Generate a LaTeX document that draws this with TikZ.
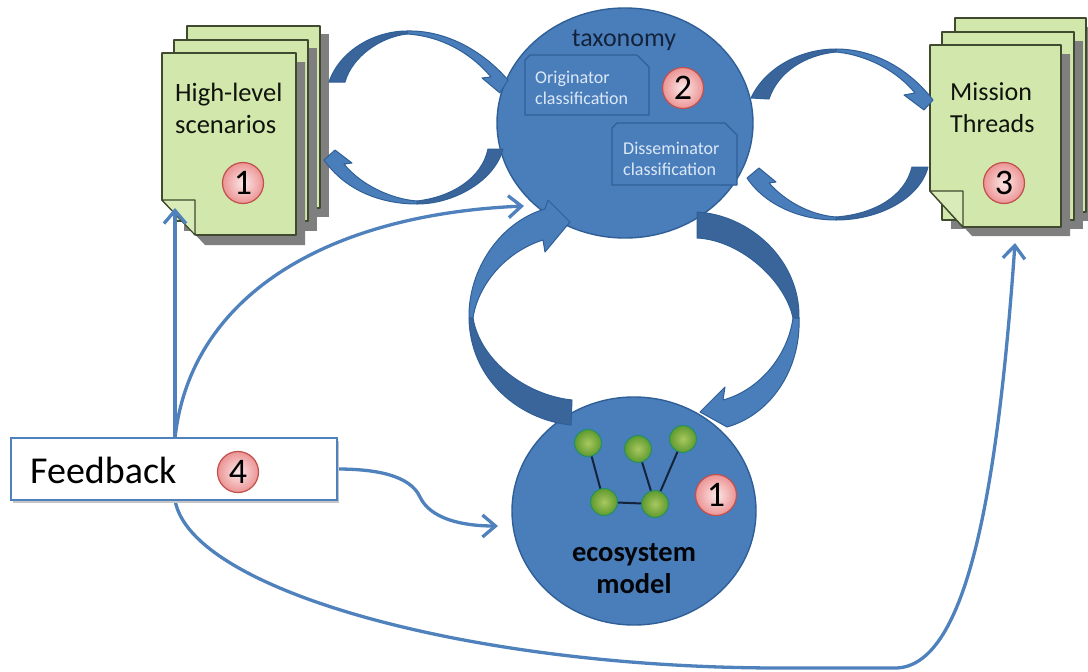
\documentclass[tikz,border=0pt]{standalone}
\usepackage{fontspec}
\setmainfont{Carlito}
\usetikzlibrary{arrows.meta}
\definecolor{blueFill}{HTML}{4A7EBB}
\definecolor{blueDark}{HTML}{3A659B}
\definecolor{blueEdge}{HTML}{2F5F96}
\definecolor{thinBlue}{HTML}{4F81BD}
\definecolor{pageFill}{HTML}{D2E7AC}
\definecolor{pageEdge}{HTML}{3F4A2E}
\definecolor{pageShade}{HTML}{7F7F7F}
\definecolor{navyText}{HTML}{14233C}
\definecolor{paleText}{HTML}{DCE8F7}
\definecolor{ballIn}{HTML}{A8C860}
\definecolor{ballOut}{HTML}{5F9A2E}
\definecolor{badgeIn}{HTML}{FCE8E8}
\definecolor{badgeOut}{HTML}{EC9494}
\definecolor{badgeEdge}{HTML}{C0504D}
\tikzset{
  pagesheet/.style={fill=pageFill,draw=pageEdge,line width=1.6pt,line join=round},
  pageshadow/.style={fill=pageShade},
  foldflap/.style={fill=pageFill!85!white,draw=pageEdge,line width=1.2pt,line join=round},
  classbox/.style={fill=blueFill,draw=blueEdge,line width=1.4pt,line join=round},
  arclight/.style={fill=blueFill,draw=blueEdge,line width=1pt,line join=round},
  arcdark/.style={fill=blueDark,draw=blueEdge,line width=1pt,line join=round},
  thinarrow/.style={draw=thinBlue,line width=3.3pt,-{Straight Barb[length=13pt,width=22pt,line width=3.3pt]}},
  badge/.style={circle,minimum size=41pt,inner sep=0pt,draw=badgeEdge,line width=1.2pt,
    inner color=badgeIn,outer color=badgeOut,text=black,font=\fontsize{36}{36}\selectfont},
  ball/.style={circle,minimum size=27pt,inner sep=0pt,draw=blueEdge!70!green,line width=1pt,
    inner color=ballIn,outer color=ballOut},
  netline/.style={draw=navyText,line width=2pt},
  pagetext/.style={align=left,anchor=west,text=black!75!pageEdge,inner sep=0pt,font=\fontsize{26.5}{32}\selectfont},
  classtext/.style={align=left,anchor=west,text=paleText,inner sep=0pt,font=\fontsize{18}{21}\selectfont},
}
\begin{document}
\begin{tikzpicture}[x=1pt,y=-1pt]
\useasboundingbox (0,0) rectangle (1088,672);
\fill[white] (0,0) rectangle (1088,672);

% scenario stack
\path[pageshadow] (196,34) rectangle (329,217);
\path[pagesheet] (187,26) rectangle (320,208);
\path[pageshadow] (184,48) rectangle (317,231);
\path[pagesheet] (174,40) rectangle (308,221);
\path[pageshadow] (171,62) -- (305,62) -- (305,245) -- (205,245) -- (171,209) -- cycle;
\path[pagesheet] (162,53) -- (296,53) -- (296,235) -- (196,235) -- (162,200) -- cycle;
\path[foldflap] (162,200) -- (195,200) -- (195,235) -- cycle;

% mission stack
\path[pageshadow] (964,27) rectangle (1088,221);
\path[pagesheet] (955,18) rectangle (1086,212);
\path[pageshadow] (951,41) rectangle (1083,229);
\path[pagesheet] (942,32) rectangle (1074,220);
\path[pageshadow] (939,54) -- (1070,54) -- (1070,236) -- (972,236) -- (939,200) -- cycle;
\path[pagesheet] (930,45) -- (1061,45) -- (1061,227) -- (963,227) -- (930,191) -- cycle;
\path[foldflap] (930,191) -- (963,191) -- (963,227) -- cycle;

\node[pagetext] (scentext) at (175,108) {High-level\\scenarios};
\node[pagetext,font=\fontsize{26}{32}\selectfont] (misstext) at (950,108) {Mission\\Threads};

% circles
\path[fill=blueFill,draw=blueEdge,line width=1.4pt] (625,123) ellipse [x radius=128,y radius=115];
\path[fill=blueFill,draw=blueEdge,line width=1.4pt] (634,511) ellipse [x radius=122,y radius=114];
\node[text=navyText,inner sep=0pt,font=\fontsize{26}{30}\selectfont] (taxonomy) at (624,40) {taxonomy};

% class boxes
\path[classbox] (525,60) -- (530,55) -- (637,55) -- (649,67) -- (649,115) -- (525,115) -- cycle;
\path[classbox] (612,128) -- (617,123) -- (725,123) -- (737,135) -- (737,185) -- (612,185) -- cycle;
\node[classtext] (orig) at (535,88) {Originator\\classification};
\node[classtext] (diss) at (623,159) {Disseminator\\classification};

% network
\node[ball] (n1) at (588,443) {};
\node[ball] (n2) at (638,449) {};
\node[ball] (n3) at (683,439) {};
\node[ball] (n4) at (604,502) {};
\node[ball] (n5) at (655,504) {};
\draw[netline] (n1) -- (n4);
\draw[netline] (n4) -- (n5);
\draw[netline] (n2) -- (n5);
\draw[netline] (n3) -- (n5);
\node[inner sep=0pt,align=center,text=black!85!navyText,font=\fontsize{28.5}{32}\selectfont\bfseries] (eco) at (634,569) {ecosystem\\model};

% curved block arrows: scenarios/taxonomy
\path[arcdark] (329,82) .. controls (340,50) and (375,31) .. (407,31) -- (407,34) .. controls (380,37) and (352,57) .. (345,82) -- cycle;
\path[arclight] (407,31) .. controls (445,30) and (482,50) .. (508,80) -- (500,93) -- (482,78) -- (491,77) .. controls (470,52) and (440,36) .. (407,34) -- cycle;
\path[arcdark] (488,149) -- (503,149) .. controls (495,180) and (455,204) .. (417,204) -- (417,201) .. controls (452,197) and (482,178) .. (488,149) -- cycle;
\path[arclight] (417,204) .. controls (380,204) and (345,190) .. (324,160) -- (335,150) -- (352,163) -- (344,164) .. controls (360,184) and (390,199) .. (417,201) -- cycle;

% taxonomy/mission
\path[arcdark] (751,98) .. controls (765,68) and (800,49) .. (836,49) -- (836,52) .. controls (805,55) and (778,72) .. (769,99) -- cycle;
\path[arclight] (836,49) .. controls (875,49) and (910,70) .. (933,100) -- (924,110) -- (904,95) -- (915,93) .. controls (898,72) and (868,55) .. (836,52) -- cycle;
\path[arcdark] (912,167) -- (928,167) .. controls (920,198) and (880,220) .. (836,220) -- (836,217) .. controls (875,214) and (905,196) .. (912,167) -- cycle;
\path[arclight] (836,220) .. controls (800,220) and (765,205) .. (747,178) -- (759,168) -- (776,182) -- (769,183) .. controls (785,201) and (810,215) .. (836,217) -- cycle;

% big arrows
\path[arclight] (469,318) .. controls (468,270) and (500,222) .. (545,209) -- (548,200) -- (570,222) -- (545,252) -- (543,240) .. controls (505,252) and (478,285) .. (473,318) -- cycle;
\path[arcdark] (469,318) .. controls (470,380) and (520,420) .. (571,425) -- (572,400) .. controls (525,395) and (480,360) .. (473,318) -- cycle;
\path[arcdark] (697,212) .. controls (750,215) and (800,260) .. (799,318) -- (793,318) .. controls (785,280) and (740,240) .. (697,238) -- cycle;
\path[arclight] (799,318) .. controls (801,370) and (770,415) .. (727,427) -- (700,412) -- (725,387) -- (723,400) .. controls (760,390) and (788,355) .. (793,318) -- cycle;

% feedback
\coordinate (fbtop) at (175,438);
\coordinate (fbbot) at (175,500);
\coordinate (fbright) at (337,469);
\coordinate (scencorner) at (175,208);
\coordinate (taxin) at (524,206);
\coordinate (ecoin) at (498,526);
\coordinate (missin) at (1015,243);
\draw[thinarrow] (fbtop) -- (scencorner);
\draw[thinarrow] (fbtop) .. controls (190,300) and (320,215) .. (taxin);
\draw[thinarrow] (fbright) .. controls (375,469) and (410,475) .. (420,497) .. controls (430,518) and (460,526) .. (ecoin);
\draw[thinarrow] (fbbot) .. controls (190,590) and (470,668) .. (780,668) -- (895,668) .. controls (965,668) and (997,500) .. (missin);
\path[fill=pageShade!45] (13,441) rectangle (339,503);
\node[draw=thinBlue,fill=white,line width=2pt,minimum width=326pt,minimum height=62pt,inner sep=0pt] (feedback) at (174,469) {};
\node[inner sep=0pt,anchor=west,text=black,font=\fontsize{38}{40}\selectfont] (fbtext) at (30,470) {Feedback};

% badges
\node[badge] (b1) at (243,183) {1};
\node[badge] (b2) at (683,88) {2};
\node[badge] (b3) at (1004,183) {3};
\node[badge] (b4) at (238,472) {4};
\node[badge] (b5) at (716,495) {1};
\end{tikzpicture}
\end{document}
